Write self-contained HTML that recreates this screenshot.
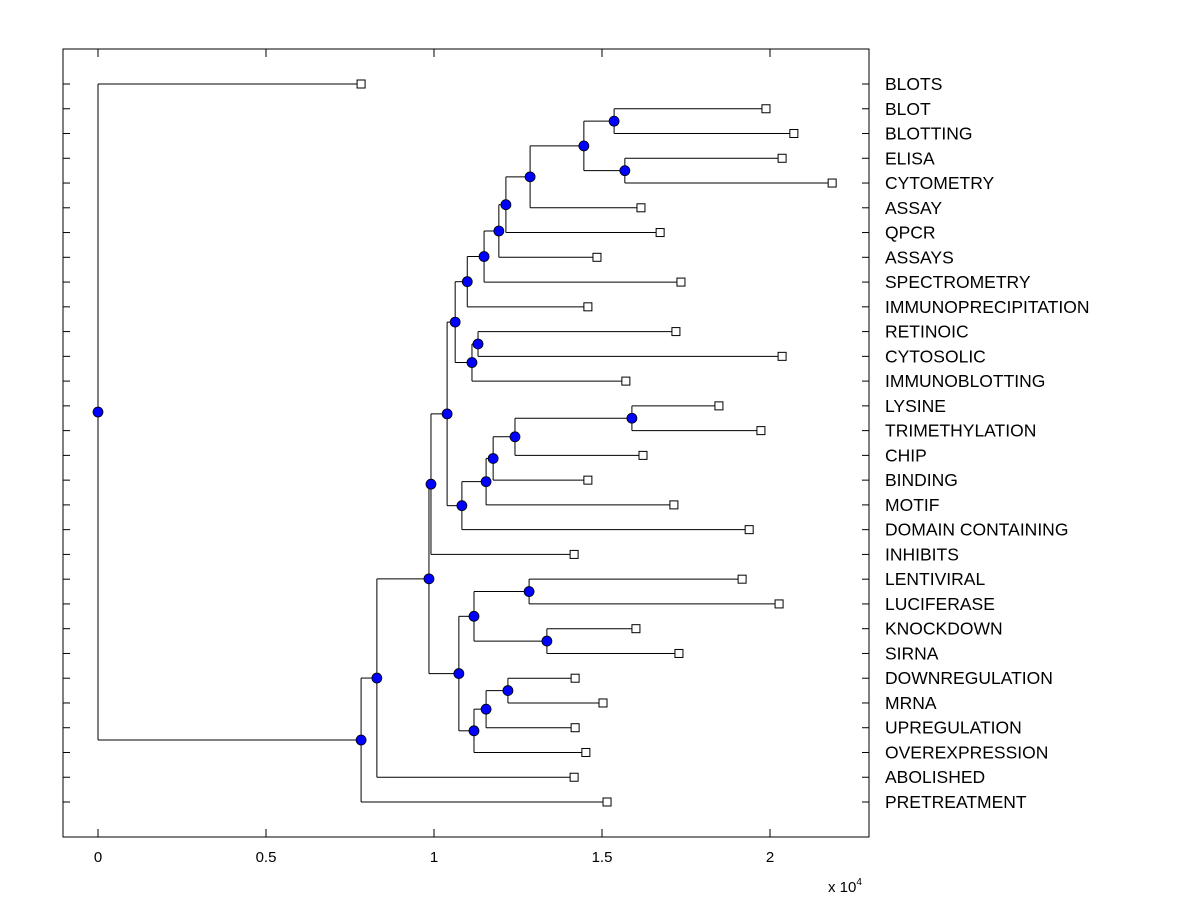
<!DOCTYPE html>
<html><head><meta charset="utf-8"><style>
body{margin:0;background:#fff;}
svg text{font-family:"Liberation Sans",Arial,sans-serif;}
</style></head><body>
<svg id="chart" width="1200" height="900" xmlns="http://www.w3.org/2000/svg">
<rect x="0" y="0" width="1200" height="900" fill="#fff"/>
<g id="plot"></g>
</svg>
<script>
const labels = ["BLOTS","BLOT","BLOTTING","ELISA","CYTOMETRY","ASSAY","QPCR","ASSAYS","SPECTROMETRY","IMMUNOPRECIPITATION","RETINOIC","CYTOSOLIC","IMMUNOBLOTTING","LYSINE","TRIMETHYLATION","CHIP","BINDING","MOTIF","DOMAIN CONTAINING","INHIBITS","LENTIVIRAL","LUCIFERASE","KNOCKDOWN","SIRNA","DOWNREGULATION","MRNA","UPREGULATION","OVEREXPRESSION","ABOLISHED","PRETREATMENT"];
const leafValues = [0.783,1.988,2.071,2.036,2.185,1.616,1.673,1.485,1.735,1.458,1.720,2.036,1.571,1.848,1.973,1.622,1.458,1.714,1.938,1.417,1.917,2.027,1.601,1.729,1.420,1.503,1.420,1.452,1.417,1.515];
const nodeChildren = [
 ["L1","L2"],["L3","L4"],["N0","N1"],["N2","L5"],["N3","L6"],["N4","L7"],["N5","L8"],["N6","L9"],
 ["L10","L11"],["N8","L12"],["N7","N9"],
 ["L13","L14"],["N11","L15"],["N12","L16"],["N13","L17"],["N14","L18"],["N10","N15"],["N16","L19"],
 ["L20","L21"],["L22","L23"],["N18","N19"],["L24","L25"],["N21","L26"],["N22","L27"],["N20","N23"],
 ["N17","N24"],["N25","L28"],["N26","L29"],["L0","N27"]
];
const nodeValues = [1.536,1.568,1.446,1.286,1.214,1.193,1.149,1.099,1.131,1.113,1.063,1.589,1.241,1.176,1.155,1.083,1.039,0.991,1.283,1.336,1.119,1.220,1.155,1.119,1.074,0.985,0.830,0.783,0];
const xTicks = [0,0.5,1,1.5,2];
const xTickLabels = ["0","0.5","1","1.5","2"];

const NS="http://www.w3.org/2000/svg";
const L=63,R=869,T=49,B=837;
const xs=v=>98+v*336;
const ys=i=>84+i*(802-84)/29;
const g=document.getElementById('plot');
function mk(tag,attrs){const e=document.createElementNS(NS,tag);for(const k in attrs)e.setAttribute(k,attrs[k]);g.appendChild(e);return e;}

let e=mk('rect',{x:L,y:T,width:R-L,height:B-T,fill:'none',stroke:'#000','stroke-width':1});



labels.forEach((lb,i)=>{
  const y=ys(i);
  let t=mk('line',{x1:L,y1:y,x2:L+7,y2:y,stroke:'#000'});
  
  
  t=mk('line',{x1:R-7,y1:y,x2:R,y2:y,stroke:'#000'});
  
  
  t=mk('text',{x:885,y:y+6,'font-size':17.5,fill:'#000'});
  t.textContent=lb;
  
  
});
xTicks.forEach((v,i)=>{
  const x=xs(v);
  let t=mk('line',{x1:x,y1:B,x2:x,y2:B-8,stroke:'#000'});
  
  
  t=mk('line',{x1:x,y1:T,x2:x,y2:T+8,stroke:'#000'});
  
  
  t=mk('text',{x:x,y:862,'font-size':15,'text-anchor':'middle',fill:'#000'});
  t.textContent=xTickLabels[i];
  
  
});
let sc=mk('text',{x:828,y:892,'font-size':15,fill:'#000'});
sc.innerHTML='x 10<tspan dy="-7" font-size="10">4</tspan>';



const nodeY=[];
function pos(ref){const k=+ref.slice(1);return ref[0]==='L'?{x:xs(leafValues[k]),y:ys(k)}:{x:xs(nodeValues[k]),y:nodeY[k]};}
nodeChildren.forEach((ch,k)=>{nodeY[k]=(pos(ch[0]).y+pos(ch[1]).y)/2;});
nodeChildren.forEach((ch,k)=>{
  const nx=xs(nodeValues[k]);
  const a=pos(ch[0]),b=pos(ch[1]);
  let l=mk('line',{x1:nx,y1:a.y,x2:nx,y2:b.y,stroke:'#000'});
  
  
  [a,b].forEach(p=>{
    let h=mk('line',{x1:nx,y1:p.y,x2:p.x,y2:p.y,stroke:'#000'});
    
    
  });
});
leafValues.forEach((v,i)=>{
  let r=mk('rect',{x:xs(v)-4,y:ys(i)-4,width:8,height:8,fill:'#fff',stroke:'#000'});
  
  
});
nodeValues.forEach((v,k)=>{
  let c=mk('circle',{cx:xs(v),cy:nodeY[k],r:5,fill:'#0000ff',stroke:'#000','stroke-width':0.8});
  
  
});
</script>
</body></html>
